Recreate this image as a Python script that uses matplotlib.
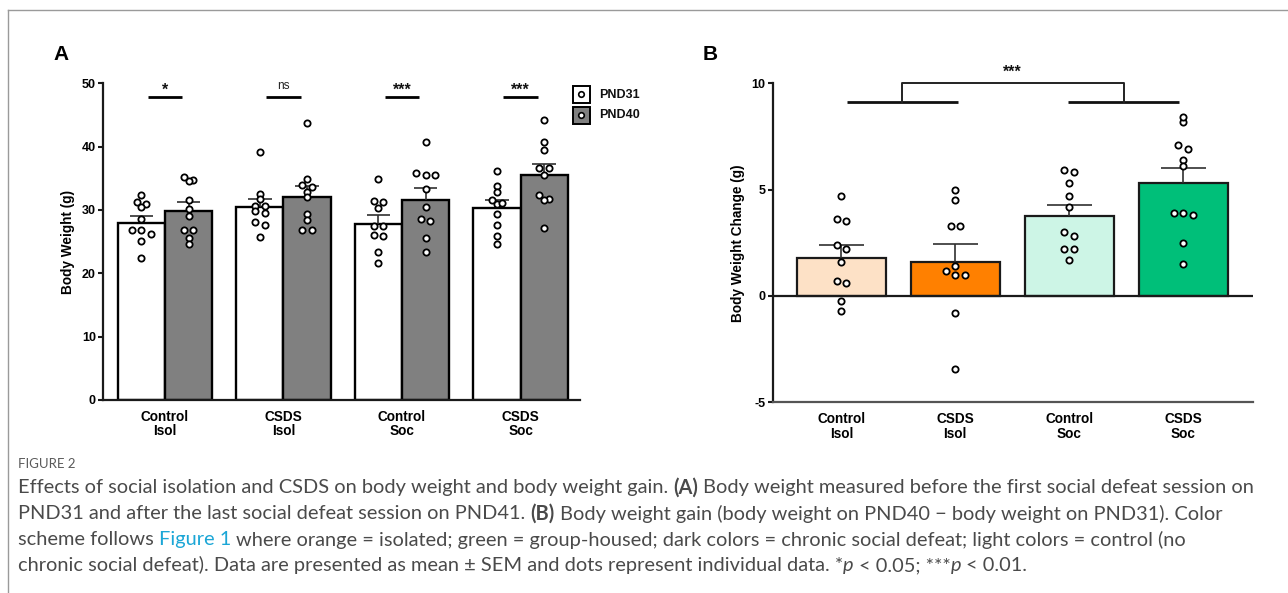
import matplotlib
matplotlib.use("Agg")
import matplotlib.pyplot as plt
import numpy as np
from matplotlib.patches import Rectangle
from matplotlib.lines import Line2D

# ---------------- data ----------------
groups = ["Control\nIsol", "CSDS\nIsol", "Control\nSoc", "CSDS\nSoc"]

# Panel A: body weight (g)
pnd31_mean = [28.0, 30.4, 27.8, 30.3]
pnd31_sem = [1.1, 1.3, 1.4, 1.3]
pnd40_mean = [29.8, 32.1, 31.6, 35.5]
pnd40_sem = [1.4, 1.7, 1.9, 1.8]

pnd31_dots = [
    [32.4, 31.2, 31.0, 30.5, 28.5, 26.8, 26.8, 26.2, 25.1, 22.4],
    [39.2, 32.5, 31.7, 30.6, 30.6, 29.9, 29.6, 28.1, 27.6, 25.8],
    [34.9, 31.4, 31.2, 30.3, 27.5, 27.5, 25.9, 26.0, 23.3, 21.6],
    [36.1, 33.8, 32.9, 31.6, 30.9, 31.1, 29.4, 27.7, 25.9, 24.6],
]
pnd40_dots = [
    [34.8, 34.5, 35.2, 31.6, 30.1, 29.1, 26.8, 26.8, 25.5, 24.7],
    [43.8, 34.9, 33.6, 33.9, 32.9, 32.1, 29.4, 28.4, 26.8, 26.9],
    [40.8, 35.5, 35.5, 35.8, 33.3, 30.5, 28.3, 28.6, 25.5, 23.3],
    [44.2, 40.8, 39.5, 36.6, 36.7, 35.5, 31.8, 32.4, 31.6, 27.1],
]
sig_a = ["*", "ns", "***", "***"]

# Panel B: body weight change (g)
change_mean = [1.80, 1.61, 3.75, 5.30]
change_sem = [0.60, 0.83, 0.53, 0.73]
change_dots = [
    [4.70, 3.51, 3.60, 2.40, 2.19, 1.58, 0.60, 0.69, -0.22, -0.72],
    [5.00, 4.50, 3.29, 3.29, 1.41, 1.19, 0.99, 0.99, -0.82, -3.42],
    [5.91, 5.81, 5.31, 4.70, 4.20, 2.99, 2.81, 2.19, 2.19, 1.69],
    [8.20, 8.43, 7.11, 6.90, 6.39, 6.11, 3.89, 3.89, 3.79, 2.51, 1.50],
]
sig_b = "***"

series_labels = ["PND31", "PND40"]
bar_colors_b = ["#FDE1C6", "#FF8000", "#CDF5E6", "#00BF79"]

# ---------------- figure ----------------
W, H = 1288, 593
plt.rcParams['axes.unicode_minus'] = False
fig = plt.figure(figsize=(W / 100, H / 100), dpi=100)
fig.patch.set_facecolor("white")
plt.rcParams['font.family'] = ['Liberation Sans', 'DejaVu Sans']


def fx(x):
    return x / W


def fy(y):
    return 1 - y / H


def swarm_offsets(vals, thr, step):
    vals = np.asarray(vals, dtype=float)
    order = np.argsort(-vals, kind="stable")
    offs = np.zeros(len(vals))
    i = 0
    while i < len(order):
        j = i
        while j + 1 < len(order) and vals[order[i]] - vals[order[j + 1]] < thr:
            j += 1
        n = j - i + 1
        for k in range(n):
            offs[order[i + k]] = (k - (n - 1) / 2) * step
        i = j + 1
    return offs


DOT = dict(marker="o", ms=4.5, mfc="white", mec="black", mew=1.3, ls="none", zorder=5)
ERR_C = "#303030"

# ---------------- Panel A ----------------
axA = fig.add_axes([fx(103), fy(400), (580 - 103) / W, (400 - 83.3) / H])
x = np.arange(len(groups))
bw = 0.397
axA.set_xlim(-0.523, 3.502)
axA.set_ylim(0, 50)
pxA_x, pxA_y = 118.5, 6.333

for means, sems, dots, off, col in [
    (pnd31_mean, pnd31_sem, pnd31_dots, -bw / 2, "white"),
    (pnd40_mean, pnd40_sem, pnd40_dots, bw / 2, "#808080"),
]:
    xc = x + off
    axA.bar(xc, means, bw, color=col, edgecolor="black", linewidth=1.7, zorder=2)
    tops = np.array(means) + np.array(sems)
    axA.vlines(xc, means, tops, color=ERR_C, lw=1.2, zorder=3)
    axA.hlines(tops, xc - bw / 4, xc + bw / 4, color=ERR_C, lw=1.2, zorder=3)
    for i, d in enumerate(dots):
        o = swarm_offsets(d, 4.3 / pxA_y, 9.6 / pxA_x)
        axA.plot(xc[i] + o, d, **DOT)

for i, s in enumerate(sig_a):
    axA.plot([x[i] - 0.145, x[i] + 0.145], [47.9, 47.9], color="black", lw=2.0,
             solid_capstyle="butt", zorder=4)
    if s == "ns":
        axA.text(x[i], 49.6, s, ha="center", va="center", fontsize=8.5, color="#222")
    else:
        axA.text(x[i], 48.9, s, ha="center", va="center", fontsize=11.5,
                 fontweight="bold", color="#111")

for sp in ["top", "right"]:
    axA.spines[sp].set_visible(False)
for sp in ["left", "bottom"]:
    axA.spines[sp].set_linewidth(1.6)
    axA.spines[sp].set_color("#1a1a1a")
axA.set_yticks([0, 10, 20, 30, 40, 50])
axA.set_xticks(x)
axA.set_xticklabels(groups, fontsize=9.8, fontweight="bold", linespacing=1.05)
axA.tick_params(axis="x", length=0, pad=7)
axA.tick_params(axis="y", length=3.6, width=1.5, pad=1.5, labelsize=9, color="#1a1a1a")
for t in axA.get_yticklabels():
    t.set_fontweight("bold")
axA.set_ylabel("Body Weight (g)", fontsize=9.8, fontweight="bold", labelpad=5)

# legend (panel A)
leg_cols = ["white", "#808080"]
for k, (lab, col) in enumerate(zip(series_labels, leg_cols)):
    y0 = 85.7 + k * 21.0
    fig.add_artist(Rectangle((fx(572.5), fy(y0 + 17)), 17 / W, 17 / H,
                             transform=fig.transFigure, facecolor=col,
                             edgecolor="black", linewidth=1.4))
    fig.add_artist(Line2D([fx(581)], [fy(y0 + 8.5)], transform=fig.transFigure,
                          marker="o", ms=4.0, mfc="white", mec="black", mew=1.2))
    fig.text(fx(599), fy(y0 + 8.8), lab, ha="left", va="center", fontsize=9,
             fontweight="bold", color="#111")

# ---------------- Panel B ----------------
axB = fig.add_axes([fx(772.7), fy(402.3), (1252.7 - 772.7) / W, (402.3 - 83.3) / H])
bwb = 0.785
axB.set_xlim(-0.602, 3.609)
axB.set_ylim(-5, 10)
pxB_x, pxB_y = 114.0, 21.27

axB.bar(x, change_mean, bwb, color=bar_colors_b, edgecolor="#1a1a1a", linewidth=1.6, zorder=2)
topsB = np.array(change_mean) + np.array(change_sem)
axB.vlines(x, change_mean, topsB, color=ERR_C, lw=1.2, zorder=3)
axB.hlines(topsB, x - bwb / 4, x + bwb / 4, color=ERR_C, lw=1.2, zorder=3)
for i, d in enumerate(change_dots):
    o = swarm_offsets(d, 4.6 / pxB_y, 9.6 / pxB_x)
    axB.plot(x[i] + o, d, **DOT)
axB.axhline(0, color="#1a1a1a", lw=1.6, zorder=4)

# bracket
yl = 9.1
axB.plot([0.05, 1.02], [yl, yl], color="#111", lw=2.0, solid_capstyle="butt", zorder=4)
axB.plot([1.99, 2.96], [yl, yl], color="#111", lw=2.0, solid_capstyle="butt", zorder=4)
axB.plot([0.53, 0.53, 2.48, 2.48], [yl, 10.0, 10.0, yl], color="#222", lw=1.4,
         clip_on=False, zorder=4)
axB.text(1.5, 10.5, sig_b, ha="center", va="center", fontsize=11.5, fontweight="bold",
         color="#111")

for sp in ["top", "right"]:
    axB.spines[sp].set_visible(False)
axB.spines["left"].set_linewidth(1.6)
axB.spines["left"].set_color("#1a1a1a")
axB.spines["bottom"].set_linewidth(1.6)
axB.spines["bottom"].set_color("#555555")
axB.set_yticks([-5, 0, 5, 10])
axB.set_xticks(x)
axB.set_xticklabels(groups, fontsize=9.8, fontweight="bold", linespacing=1.05)
axB.tick_params(axis="x", length=0, pad=7)
axB.tick_params(axis="y", length=3.6, width=1.5, pad=1.5, labelsize=9, color="#1a1a1a")
for t in axB.get_yticklabels():
    t.set_fontweight("bold")
axB.set_ylabel("Body Weight Change (g)", fontsize=9.8, fontweight="bold", labelpad=5)

# panel letters
fig.text(fx(53), fy(60), "A", fontsize=15, fontweight="bold", ha="left", va="baseline")
fig.text(fx(703), fy(60), "B", fontsize=15, fontweight="bold", ha="left", va="baseline")

# border
fig.add_artist(Line2D([fx(8), fx(8)], [fy(10), 0], transform=fig.transFigure,
                      color="#9a9a9a", lw=1.0))
fig.add_artist(Line2D([fx(8), 1], [fy(10), fy(10)], transform=fig.transFigure,
                      color="#9a9a9a", lw=1.0))

# ---------------- caption ----------------
CAP_FONT = ['Lato', 'DejaVu Sans']
CAP_COL = "#4a4a4a"
LINK_COL = "#1BA6D6"
fig.text(fx(18), fy(464), "FIGURE 2", fontsize=9.5, color="#5a5a5a", family=CAP_FONT,
         ha="left", va="center")

N = dict()
B = dict(fontweight="bold")
I = dict(fontstyle="italic")
L = dict(color=LINK_COL)
cap_lines = [
    [("Effects of social isolation and CSDS on body weight and body weight gain. ", N),
     ("(A)", B), (" Body weight measured before the first social defeat session on", N)],
    [("PND31 and after the last social defeat session on PND41. ", N), ("(B)", B),
     (" Body weight gain (body weight on PND40 \u2212 body weight on PND31). Color", N)],
    [("scheme follows ", N), ("Figure 1", L),
     (" where orange = isolated; green = group-housed; dark colors = chronic social defeat; light colors = control (no", N)],
    [("chronic social defeat). Data are presented as mean \u00b1 SEM and dots represent individual data. *", N),
     ("p", I), (" < 0.05; ***", N), ("p", I), (" < 0.01.", N)],
]

renderer = fig.canvas.get_renderer()


def text_w(s, size, props):
    t = fig.text(0, 0, s, fontsize=size, family=CAP_FONT, **props)
    w = t.get_window_extent(renderer).width
    t.remove()
    return w


def space_w(size, props):
    return text_w("x x", size, props) - text_w("xx", size, props)


def layout_line(segs, size, draw=False, x0=18, yc=0):
    xpos = x0
    for s, props in segs:
        lead = len(s) - len(s.lstrip(" "))
        trail = len(s) - len(s.rstrip(" "))
        core = s.strip(" ")
        sw = space_w(size, props)
        xpos += lead * sw
        if core:
            if draw:
                kw = dict(color=CAP_COL)
                kw.update(props)
                fig.text(fx(xpos), fy(yc), core, fontsize=size, family=CAP_FONT,
                         ha="left", va="center", **kw)
            xpos += text_w(core, size, props)
        xpos += trail * sw
    return xpos - x0


base = 13.0
w1 = layout_line(cap_lines[0], base)
cap_size = base * (1232.0 / w1)
for k, segs in enumerate(cap_lines):
    layout_line(segs, cap_size, draw=True, x0=18, yc=488 + k * 25.8)

fig.savefig("out.png", dpi=100, facecolor="white")
